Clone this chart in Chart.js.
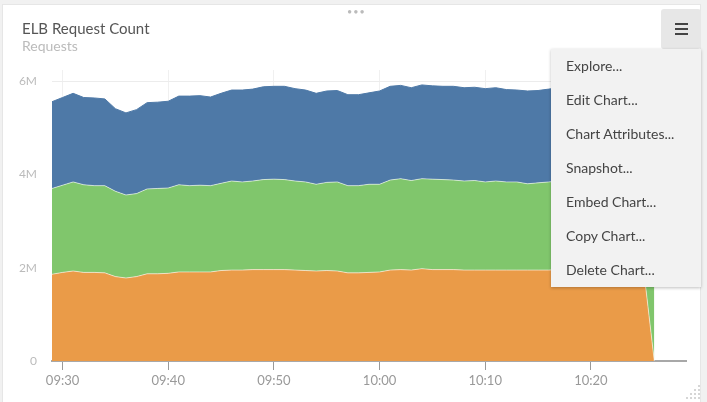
<!DOCTYPE html>
<html>
<head>
<meta charset="utf-8">
<script src="https://cdn.jsdelivr.net/npm/chart.js@4"></script>
<style>
  html, body { margin: 0; padding: 0; }
  body { width: 707px; height: 402px; background: #f1f1f1; position: relative; overflow: hidden; font-family: Lato, "Open Sans", sans-serif; }
  #card { position: absolute; left: 2px; top: 4px; width: 699px; height: 400px; background: #fff; border: 1px solid #e6e6e6; box-sizing: border-box; }
  #chart-wrap { position: absolute; left: 0; top: 0; width: 707px; height: 402px; }
  .title { position: absolute; left: 22px; top: 19px; font-size: 15px; color: #555; }
  .subtitle { position: absolute; left: 22px; top: 37px; font-size: 14px; color: #bbb; }
  .dots { position: absolute; left: 347px; top: 6px; font-size: 9px; color: #bbb; letter-spacing: 1px; }
  .menu-btn { position: absolute; left: 661px; top: 9px; width: 40px; height: 40px; background: #e7e7e7; border-radius: 3px; }
  .menu-btn span { position: absolute; left: 14px; width: 13px; height: 2px; background: #444; }
  .menu { position: absolute; left: 551px; top: 49px; width: 150px; height: 238px; background: #f2f2f2; box-shadow: 0 1px 3px rgba(0,0,0,0.25); }
  .menu div { height: 34px; line-height: 34px; padding-left: 15px; font-size: 14px; color: #444; }
  .grip { position: absolute; left: 686px; top: 384px; }
</style>
</head>
<body>
<div id="card"></div>
<div id="chart-wrap"><canvas id="elb-chart" width="707" height="402"></canvas></div>
<div class="title">ELB Request Count</div>
<div class="subtitle">Requests</div>
<div class="dots">•••</div>
<div class="menu-btn"><span style="top:14px"></span><span style="top:19px"></span><span style="top:24px"></span></div>
<div class="menu">
  <div>Explore...</div>
  <div>Edit Chart...</div>
  <div>Chart Attributes...</div>
  <div>Snapshot...</div>
  <div>Embed Chart...</div>
  <div>Copy Chart...</div>
  <div>Delete Chart...</div>
</div>
<svg class="grip" width="16" height="16">
  <g fill="#c8c8c8">
    <circle cx="13" cy="2" r="1"/>
    <circle cx="9" cy="6" r="1"/><circle cx="13" cy="6" r="1"/>
    <circle cx="5" cy="10" r="1"/><circle cx="9" cy="10" r="1"/><circle cx="13" cy="10" r="1"/>
    <circle cx="1" cy="14" r="1"/><circle cx="5" cy="14" r="1"/><circle cx="9" cy="14" r="1"/><circle cx="13" cy="14" r="1"/>
  </g>
</svg>
<script>
// minutes, one point per minute
const times = [
  "09:29", "09:30", "09:31", "09:32", "09:33", "09:34", "09:35", "09:36", "09:37", "09:38",
  "09:39", "09:40", "09:41", "09:42", "09:43", "09:44", "09:45", "09:46", "09:47", "09:48",
  "09:49", "09:50", "09:51", "09:52", "09:53", "09:54", "09:55", "09:56", "09:57", "09:58",
  "09:59", "10:00", "10:01", "10:02", "10:03", "10:04", "10:05", "10:06", "10:07", "10:08",
  "10:09", "10:10", "10:11", "10:12", "10:13", "10:14", "10:15", "10:16", "10:17", "10:18",
  "10:19", "10:20", "10:21", "10:22", "10:23", "10:24", "10:25", "10:26"
];

// requests, in millions
const orangeReq = [
  1.86, 1.90, 1.93, 1.90, 1.90, 1.89, 1.81, 1.78, 1.81, 1.87,
  1.87, 1.88, 1.91, 1.91, 1.91, 1.91, 1.94, 1.95, 1.95, 1.96,
  1.96, 1.96, 1.96, 1.95, 1.94, 1.93, 1.94, 1.93, 1.89, 1.89,
  1.90, 1.91, 1.95, 1.96, 1.95, 1.98, 1.96, 1.96, 1.96, 1.95,
  1.95, 1.95, 1.95, 1.95, 1.95, 1.95, 1.95, 1.95, 1.96, 1.95,
  1.96, 1.95, 1.95, 1.96, 1.95, 1.96, 1.95, 0
];
const greenReq = [
  1.84, 1.87, 1.91, 1.88, 1.86, 1.87, 1.83, 1.78, 1.78, 1.82,
  1.83, 1.83, 1.87, 1.85, 1.86, 1.85, 1.87, 1.91, 1.89, 1.90,
  1.93, 1.94, 1.93, 1.91, 1.90, 1.86, 1.89, 1.91, 1.87, 1.87,
  1.89, 1.88, 1.93, 1.95, 1.92, 1.93, 1.94, 1.93, 1.92, 1.91,
  1.92, 1.89, 1.91, 1.89, 1.89, 1.85, 1.87, 1.89, 1.90, 1.88,
  1.90, 1.89, 1.91, 1.89, 1.90, 1.88, 1.92, 1.90
];
const blueReq = [
  1.86, 1.88, 1.90, 1.87, 1.88, 1.86, 1.77, 1.76, 1.80, 1.85,
  1.85, 1.86, 1.90, 1.92, 1.92, 1.90, 1.93, 1.95, 1.97, 1.97,
  1.99, 1.99, 2.00, 1.98, 1.97, 1.95, 1.96, 1.96, 1.95, 1.95,
  1.96, 2.00, 2.01, 2.00, 1.99, 2.01, 2.00, 2.00, 2.01, 2.00,
  2.00, 2.00, 2.00, 1.98, 1.97, 1.99, 1.98, 1.99, 2.00, 1.98,
  2.00, 1.99, 1.98, 2.00, 1.99, 1.98, 1.99, 1.90
];

// x ticks in minutes past 09:00, y ticks in millions
const xTicks = [30, 40, 50, 60, 70, 80];
const yTicks = [0, 2, 4, 6];

function toMinutes(t) {
  const p = t.split(":");
  return (parseInt(p[0], 10) - 9) * 60 + parseInt(p[1], 10);
}
function fmtMinutes(m) {
  const h = 9 + Math.floor(m / 60);
  const mm = m % 60;
  return (h < 10 ? "0" + h : "" + h) + ":" + (mm < 10 ? "0" + mm : "" + mm);
}
function series(vals) {
  return vals.map((v, i) => ({ x: toMinutes(times[i]), y: v }));
}

Chart.defaults.font.family = "Lato, 'Open Sans', sans-serif";

new Chart(document.getElementById("elb-chart"), {
  type: "line",
  data: {
    datasets: [
      {
        label: "orange",
        data: series(orangeReq),
        backgroundColor: "#ea9b48",
        borderColor: "rgba(255,255,255,0.55)",
        borderWidth: 1,
        fill: "origin",
      },
      {
        label: "green",
        data: series(greenReq),
        backgroundColor: "#80c66c",
        borderColor: "rgba(255,255,255,0.55)",
        borderWidth: 1,
        fill: "-1",
      },
      {
        label: "blue",
        data: series(blueReq),
        backgroundColor: "#4e79a7",
        borderColor: "#4e79a7",
        borderWidth: 1,
        fill: "-1",
      },
    ],
  },
  options: {
    responsive: false,
    animation: false,
    layout: { padding: { top: 70, right: 21, left: 0, bottom: 0 } },
    elements: { point: { radius: 0 }, line: { tension: 0 } },
    plugins: { legend: { display: false }, tooltip: { enabled: false } },
    scales: {
      x: {
        type: "linear",
        min: 29,
        max: 89,
        z: 1,
        afterBuildTicks: (scale) => { scale.ticks = xTicks.map(v => ({ value: v })); },
        afterFit: (scale) => { scale.height = 41; },
        grid: { color: "rgba(0,0,0,0.06)", tickColor: "#999", tickLength: 9 },
        border: { color: "#a8a8a8", width: 2 },
        ticks: { color: "#999", font: { size: 13 }, padding: 3, maxRotation: 0, callback: (v) => fmtMinutes(v) },
      },
      y: {
        stacked: true,
        min: 0,
        max: 6.24,
        afterBuildTicks: (scale) => { scale.ticks = yTicks.map(v => ({ value: v })); },
        afterFit: (scale) => { scale.width = 52; },
        grid: { color: "#ececec", drawTicks: false },
        border: { display: false },
        ticks: { color: "#bbb", font: { size: 12 }, padding: 15, callback: (v) => (v === 0 ? "0" : v + "M") },
      },
    },
  },
});
</script>
</body>
</html>
